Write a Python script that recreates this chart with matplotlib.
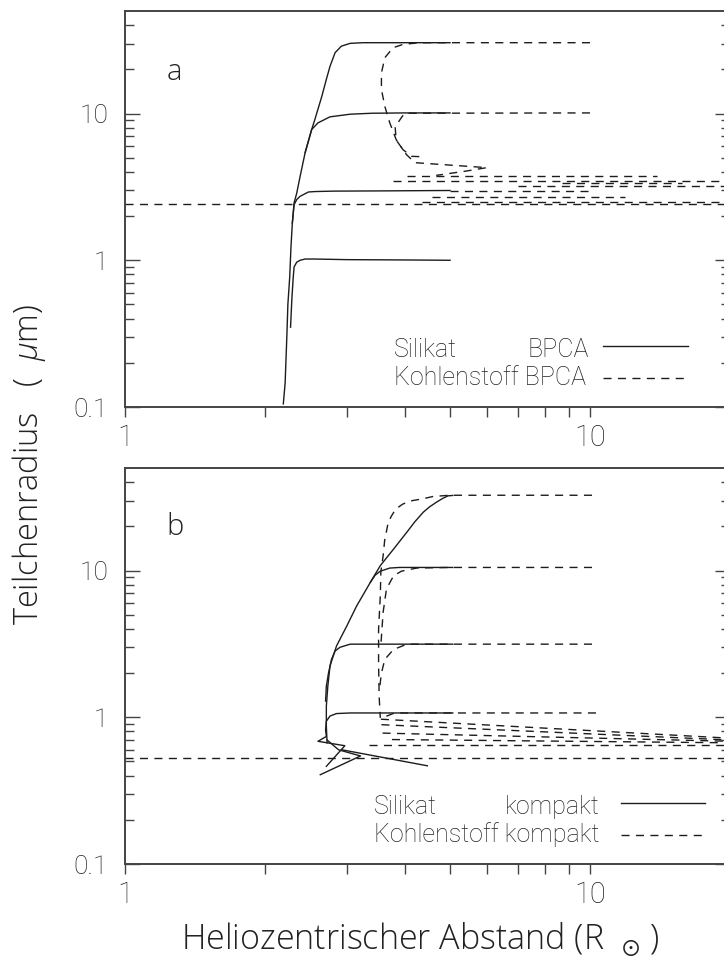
import matplotlib
matplotlib.use('Agg')
import matplotlib.pyplot as plt

# ---------------------------------------------------------------
# panel a: porous aggregates (BPCA)
# ---------------------------------------------------------------
# silicate, solid lines
a_si30_x = [5.0, 3.6, 3.25, 3.05, 2.92, 2.83, 2.76, 2.71, 2.65, 2.56, 2.52,
            2.44, 2.38, 2.34, 2.31, 2.29, 2.275, 2.26, 2.24, 2.23, 2.21, 2.19]
a_si30_y = [30.4, 30.4, 30.4, 30.1, 28.8, 26.0, 21.0, 17.1, 13.1, 9.1, 7.78,
            5.42, 3.73, 2.86, 2.46, 1.79, 1.24, 0.76, 0.50, 0.32, 0.146, 0.105]
a_si10_x = [5.0, 4.0, 3.4, 3.05, 2.76, 2.60, 2.52, 2.44]
a_si10_y = [10.1, 10.1, 10.05, 9.9, 9.5, 8.64, 7.78, 5.42]
a_si3_x = [5.0, 3.5, 2.8, 2.56, 2.48, 2.38, 2.34, 2.31, 2.29]
a_si3_y = [2.99, 2.97, 2.96, 2.94, 2.92, 2.73, 2.59, 2.39, 1.79]
a_si1_x = [5.0, 4.0, 3.0, 2.55, 2.44, 2.38, 2.34, 2.31, 2.30, 2.285, 2.27]
a_si1_y = [1.0, 1.005, 1.01, 1.02, 1.02, 1.0, 0.97, 0.90, 0.76, 0.55, 0.35]

# carbon, dashed lines
a_c30_x = [10.0, 4.3, 3.96, 3.77, 3.62, 3.56, 3.56, 3.62, 3.71, 3.83, 3.96, 4.13, 4.35]
a_c30_y = [30.4, 30.4, 29.6, 28.1, 24.0, 18.9, 14.6, 11.2, 8.64, 6.64, 5.68, 5.11, 5.08]
a_c10_x = [10.0, 4.0, 3.94, 3.81, 3.83, 4.03, 4.20, 4.31, 6.0, 5.4, 4.67]
a_c10_y = [10.1, 10.05, 9.5, 8.1, 6.6, 5.25, 4.63, 4.6, 4.28, 4.05, 3.79]
# grains driven outward after sublimation: (y, x_start, x_end)
a_out_y = [3.73, 3.49, 3.37, 3.23, 2.98, 2.68, 2.51, 2.42]
a_out_x0 = [4.04, 3.77, 8.7, 7.0, 5.0, 4.57, 4.35, 1.0]
a_out_x1 = [13.9, 20.0, 15.8, 20.0, 10.0, 11.9, 20.0, 20.0]

# ---------------------------------------------------------------
# panel b: compact grains
# ---------------------------------------------------------------
b_si30_x = [5.07, 4.95, 4.82, 4.68, 4.52, 4.38, 4.2, 4.04, 3.78, 3.54, 3.37,
            3.15, 3.0, 2.85, 2.76, 2.73, 2.71, 2.71, 2.72]
b_si30_y = [32.5, 32.3, 31.0, 29.3, 27.2, 25.0, 21.5, 18.3, 14.0, 10.8, 8.31,
            5.75, 4.2, 3.06, 2.24, 1.63, 1.19, 0.87, 0.67]
b_si10_x = [5.07, 4.5, 3.9, 3.71, 3.54, 3.45, 3.37]
b_si10_y = [10.5, 10.5, 10.5, 10.4, 9.9, 9.3, 8.31]
b_si3_x = [5.07, 3.05, 2.90, 2.83, 2.78, 2.74, 2.71, 2.70]
b_si3_y = [3.15, 3.15, 3.0, 2.83, 2.48, 2.01, 1.63, 1.29]
b_si1_x = [5.07, 3.05, 2.85, 2.76, 2.71, 2.70, 2.71, 2.60, 2.97, 2.71]
b_si1_y = [1.07, 1.07, 1.06, 1.02, 0.94, 0.82, 0.74, 0.686, 0.64, 0.463]
b_zig_x = [2.72, 2.88, 3.21, 2.63]
b_zig_y = [0.70, 0.60, 0.545, 0.406]
b_tail_x = [2.93, 4.47]
b_tail_y = [0.60, 0.467]

b_c30_x = [10.1, 5.0, 4.6, 4.38, 4.11, 3.95, 3.82, 3.74, 3.68, 3.65, 3.62,
           3.59, 3.55, 3.54, 3.51, 3.51, 3.52, 3.54]
b_c30_y = [32.6, 32.6, 32.0, 30.9, 29.8, 28.3, 26.2, 23.5, 21.2, 18.5, 16.4,
           12.6, 9.8, 6.7, 3.98, 2.31, 1.39, 0.99]
b_c10_x = [10.1, 5.0, 4.24, 3.93, 3.78, 3.65, 3.59, 3.55]
b_c10_y = [10.5, 10.5, 10.4, 9.9, 9.2, 7.5, 5.2, 3.1]
b_c3_x = [10.1, 5.0, 4.04, 3.78, 3.62, 3.56, 3.53]
b_c3_y = [3.15, 3.15, 3.15, 2.9, 2.48, 2.0, 1.6]
b_c1_x = [10.3, 5.0, 3.8, 3.6, 3.55]
b_c1_y = [1.07, 1.07, 1.07, 1.0, 0.97]
# outward moving carbon grains
b_fan_x0 = [3.55, 3.56, 3.58, 3.75, 3.34, 1.0]
b_fan_y0 = [0.97, 0.89, 0.78, 0.705, 0.648, 0.53]
b_fan_y1 = [0.72, 0.70, 0.686, 0.67, 0.648, 0.53]
b_fan_x1 = 20.0

xticks = [1, 10]
xtick_labels = ['1', '10']
yticks = [0.1, 1, 10]
ytick_labels = ['0.1', '1', '10']

# ---------------------------------------------------------------
# plotting
# ---------------------------------------------------------------
plt.rcParams['font.family'] = ['Roboto', 'DejaVu Sans']
plt.rcParams['font.weight'] = 'light'
plt.rcParams['mathtext.fontset'] = 'custom'
plt.rcParams['mathtext.rm'] = 'Open Sans:light'
plt.rcParams['mathtext.it'] = 'Open Sans:italic:light'
plt.rcParams['mathtext.fallback'] = 'stix'

ink = '#1c1c1c'
txt = '#222222'
dash = (0, (5.8, 4.6))
label_font = ['Open Sans', 'DejaVu Sans']

fig = plt.figure(figsize=(7.24, 9.72), dpi=100)
W, H = 724.0, 972.0
left, right = 125, 730
ax_a = fig.add_axes([left / W, 1 - 407 / H, (right - left) / W, 396 / H])
ax_b = fig.add_axes([left / W, 1 - 864 / H, (right - left) / W, 396 / H])


def style(ax):
    ax.set_xscale('log')
    ax.set_yscale('log')
    ax.set_xlim(1, 20)
    ax.set_ylim(0.1, 50)
    ax.set_xticks(xticks)
    ax.set_xticklabels(xtick_labels)
    ax.set_xticks(range(2, 10), minor=True)
    ax.set_xticklabels([], minor=True)
    ax.set_yticks(yticks)
    ax.set_yticklabels(ytick_labels)
    ymin = [m * d for d in (0.1, 1, 10) for m in range(2, 10) if m * d < 50]
    ax.set_yticks(ymin, minor=True)
    ax.set_yticklabels([], minor=True)
    ax.tick_params(axis='x', which='both', direction='out', top=False,
                   length=7.5, width=1.0, color='#444444', pad=5,
                   labelsize=21, labelcolor=txt)
    ax.tick_params(axis='y', which='both', direction='in', left=True,
                   right=True, width=1.0, color='#444444', pad=12,
                   labelsize=19, labelcolor=txt)
    ax.tick_params(axis='y', which='major', length=11)
    ax.tick_params(axis='y', which='minor', length=6.5)
    for s in ax.spines.values():
        s.set_color('#444444')
        s.set_linewidth(1.4)


def legend(ax, row1, row2, word, xw, ha, x0, y1, y2, lx0, lx1):
    ax.text(x0, y1, row1, transform=ax.transAxes,
            fontsize=18, color=txt, va='center')
    ax.text(xw, y1, word, transform=ax.transAxes, fontsize=18, color=txt,
            va='center', ha=ha)
    ax.text(x0, y2, row2, transform=ax.transAxes,
            fontsize=18, color=txt, va='center')
    ax.plot([lx0, lx1], [y1 + 0.01, y1 + 0.01], '-', color=ink, lw=1.0,
            transform=ax.transAxes, clip_on=False)
    ax.plot([lx0, lx1], [y2, y2], color=ink, lw=1.0, linestyle=dash,
            transform=ax.transAxes, clip_on=False)


# panel a
style(ax_a)
for x, y in [(a_si30_x, a_si30_y), (a_si10_x, a_si10_y),
             (a_si3_x, a_si3_y), (a_si1_x, a_si1_y)]:
    ax_a.plot(x, y, '-', color=ink, lw=1.0)
for x, y in [(a_c30_x, a_c30_y), (a_c10_x, a_c10_y)]:
    ax_a.plot(x, y, color=ink, lw=1.0, linestyle=dash)
for y, x0, x1 in zip(a_out_y, a_out_x0, a_out_x1):
    ax_a.plot([x0, x1], [y, y], color=ink, lw=1.0, linestyle=dash)
ax_a.text(0.068, 0.846, 'a', transform=ax_a.transAxes, fontsize=21,
          color=txt, va='center', family=label_font)
legend(ax_a, 'Silikat', 'Kohlenstoff BPCA', 'BPCA', 0.666, 'left', 0.4446,
       0.144, 0.0732, 0.790, 0.930)

# panel b
style(ax_b)
for x, y in [(b_si30_x, b_si30_y), (b_si10_x, b_si10_y), (b_si3_x, b_si3_y),
             (b_si1_x, b_si1_y), (b_zig_x, b_zig_y), (b_tail_x, b_tail_y)]:
    ax_b.plot(x, y, '-', color=ink, lw=1.0)
for x, y in [(b_c30_x, b_c30_y), (b_c10_x, b_c10_y), (b_c3_x, b_c3_y),
             (b_c1_x, b_c1_y)]:
    ax_b.plot(x, y, color=ink, lw=1.0, linestyle=dash)
for x0, y0, y1 in zip(b_fan_x0, b_fan_y0, b_fan_y1):
    ax_b.plot([x0, b_fan_x1], [y0, y1], color=ink, lw=1.0, linestyle=dash)
ax_b.text(0.068, 0.851, 'b', transform=ax_b.transAxes, fontsize=21,
          color=txt, va='center', family=label_font)
legend(ax_b, 'Silikat', 'Kohlenstoff kompakt', 'kompakt', 0.785, 'right',
       0.4116, 0.144, 0.0732, 0.820, 0.959)

fig.text(0.040, 0.522, 'Teilchenradius   (  $\\mu$m)', rotation=90,
         fontsize=23.5, color=txt, ha='center', va='center', family=label_font)
fig.text(0.58, 0.033, 'Heliozentrischer Abstand (R  $_{\\odot}$ )', fontsize=24.5,
         color=txt, ha='center', va='center', family=label_font)

fig.savefig('out.png', dpi=100)
